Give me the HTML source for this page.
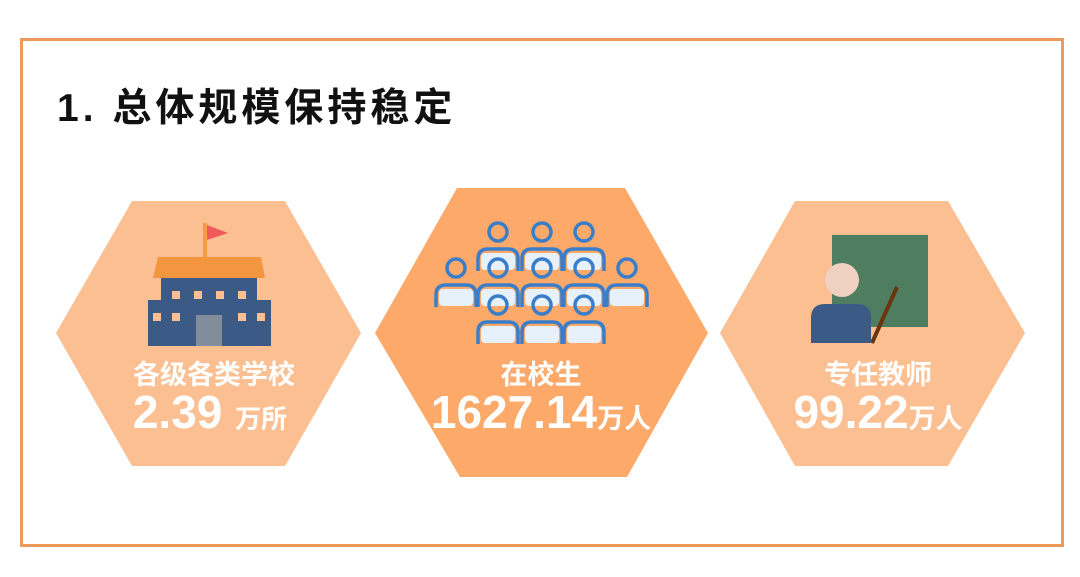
<!DOCTYPE html>
<html><head><meta charset="utf-8"><style>
body{margin:0;width:1080px;height:577px;background:#fff;position:relative;overflow:hidden;font-family:"Liberation Sans","Noto Sans CJK SC",sans-serif}
.frame{position:absolute;left:20px;top:38px;width:1038px;height:503px;border:3px solid #ee9a5c}
.t{position:absolute;color:#fff;font-weight:bold;text-align:center;white-space:nowrap}
</style></head><body>
<div class="frame"></div>
<div style="position:absolute;left:57px;top:85px;font-size:39px;font-weight:bold;color:#111;letter-spacing:4px;line-height:48px">1. 总体规模保持稳定</div>
<svg width="1080" height="577" style="position:absolute;left:0;top:0">
<polygon points="132,201 285,201 361,333 285,466 132,466 56,333" fill="#fbbf92"/>
<polygon points="457,188 625,188 708,333 627,477 460,477 375,333" fill="#fca96a"/>
<polygon points="795,201 948,201 1025,333 948,466 795,466 720,333" fill="#fbbf92"/>
<rect x="203" y="223" width="4" height="35" fill="#f29b4b"/>
<polygon points="207,225 228,233 207,240" fill="#f05a5a"/>
<polygon points="158,257 261,257 265,278 153,278" fill="#f2963f"/>
<rect x="161" y="278" width="96" height="24" fill="#3b5b86"/>
<rect x="148" y="300" width="123" height="46" fill="#3b5b86"/>
<g fill="#fbbf92">
<rect x="172" y="291" width="8" height="8"/><rect x="194" y="291" width="8" height="8"/><rect x="216" y="291" width="8" height="8"/><rect x="238" y="291" width="8" height="8"/>
<rect x="153" y="313" width="8" height="8"/><rect x="172" y="313" width="8" height="8"/><rect x="238" y="313" width="8" height="8"/><rect x="257" y="313" width="8" height="8"/>
</g>
<rect x="196" y="315" width="26" height="31" fill="#828d9c"/>
<rect x="832" y="235" width="96" height="92" fill="#4e7d5f"/>
<line x1="897" y1="287" x2="872" y2="343" stroke="#6b3410" stroke-width="4"/>
<circle cx="842" cy="280" r="17" fill="#f0d0c0"/>
<path d="M811,343 L811,318 Q811,304 825,304 L857,304 Q871,304 871,318 L871,343 Z" fill="#3b5b86"/>
<defs>
<g id="p">
<circle cx="0" cy="0" r="9" fill="none" stroke="#3a7dc9" stroke-width="3.5"/>
<rect x="-17" y="21" width="34" height="17" rx="4" fill="#e6f1fb"/>
<path d="M-20,39 L-20,27 Q-20,17 -10,17 L10,17 Q20,17 20,27 L20,39" fill="none" stroke="#3a7dc9" stroke-width="3.5"/>
</g>
</defs>
<use href="#p" x="498" y="232"/><use href="#p" x="542" y="232"/><use href="#p" x="584" y="232"/>
<use href="#p" x="456" y="268"/><use href="#p" x="498" y="268"/><use href="#p" x="542" y="268"/><use href="#p" x="584" y="268"/><use href="#p" x="627" y="268"/>
<use href="#p" x="498" y="305"/><use href="#p" x="542" y="305"/><use href="#p" x="584" y="305"/>
</svg>
<div class="t" style="left:64px;width:300px;top:358px;font-size:27px;line-height:34px">各级各类学校</div>
<div class="t" style="left:60px;width:300px;top:387px;font-size:46px;line-height:50px">2.39 <span style="font-size:26px">万所</span></div>
<div class="t" style="left:391px;width:300px;top:358px;font-size:27px;line-height:34px">在校生</div>
<div class="t" style="left:391px;width:300px;top:387px;font-size:46px;line-height:50px">1627.14<span style="font-size:27px">万人</span></div>
<div class="t" style="left:728px;width:300px;top:358px;font-size:27px;line-height:34px">专任教师</div>
<div class="t" style="left:728px;width:300px;top:387px;font-size:46px;line-height:50px">99.22<span style="font-size:27px">万人</span></div>
</body></html>
